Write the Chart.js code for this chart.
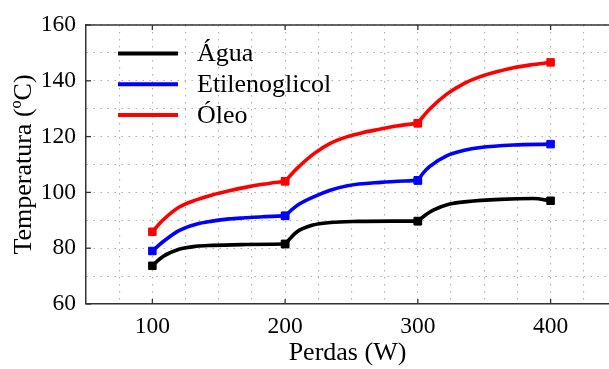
<!DOCTYPE html>
<html><head><meta charset="utf-8">
<script src="https://cdn.jsdelivr.net/npm/chart.js@4/dist/chart.umd.min.js"></script>
<style>html,body{margin:0;padding:0;background:#fff;overflow:hidden}</style>
</head><body>
<canvas id="c" width="609" height="369"></canvas>
<script>
// ---- data ----
const seriesLabels = ['Água', 'Etilenoglicol', 'Óleo'];
const seriesColors = ['#000000', '#0000ff', '#ff0000'];

const aguaX = [100, 108, 120, 133, 145, 170, 200, 209, 221, 234, 255, 280, 300, 306, 312, 324, 337, 362, 387, 400];
const aguaY = [73.7, 77.0, 79.6, 80.7, 81.0, 81.3, 81.5, 85.9, 88.3, 89.2, 89.6, 89.7, 89.7, 92.0, 93.7, 95.8, 96.7, 97.5, 97.8, 97.0];

const etilX = [100, 108, 120, 133, 145, 158, 170, 183, 200, 209, 222, 234, 247, 272, 300, 304, 309, 322, 335, 347, 372, 400];
const etilY = [79.0, 82.3, 86.3, 88.6, 89.7, 90.5, 90.9, 91.3, 91.6, 95.3, 98.5, 100.8, 102.4, 103.6, 104.3, 106.9, 109.3, 113.2, 115.1, 116.1, 117.0, 117.3];

const oleoX = [100, 108, 120, 133, 145, 158, 170, 183, 200, 209, 222, 234, 247, 259, 272, 284, 300, 304, 309, 322, 335, 347, 360, 372, 385, 400];
const oleoY = [85.9, 90.1, 94.7, 97.3, 99.1, 100.6, 101.8, 102.9, 104.0, 108.6, 114.0, 117.6, 120.0, 121.5, 122.7, 123.8, 124.8, 127.2, 129.9, 135.3, 139.1, 141.5, 143.3, 144.7, 145.7, 146.6];

const markerX = [100, 200, 300, 400];      // measured points (square markers)
const xTickValues = [100, 200, 300, 400];
const yTickValues = [60, 80, 100, 120, 140, 160];
const xGridStep = 25, yGridStep = 10;
const xMin = 50, xMax = 444, yMin = 60, yMax = 160;

// ---- build datasets: each series is drawn as smooth pieces between measured points ----
const seriesX = [aguaX, etilX, oleoX];
const seriesY = [aguaY, etilY, oleoY];
const FONT = '"Liberation Serif", "Times New Roman", serif';

const datasets = [];
seriesLabels.forEach((lab, i) => {
  const pts = seriesX[i].map((x, k) => ({x: x, y: seriesY[i][k]}));
  for (let m = 0; m < markerX.length - 1; m++) {
    const seg = pts.filter(p => p.x >= markerX[m] && p.x <= markerX[m + 1]);
    datasets.push({
      label: lab,
      data: seg,
      borderColor: seriesColors[i],
      backgroundColor: seriesColors[i],
      borderWidth: 3.6,
      cubicInterpolationMode: 'monotone',
      pointStyle: 'rect',
      pointRadius: ctx => (ctx.raw && markerX.includes(ctx.raw.x)) ? 5.3 : 0,
      pointBorderWidth: 1,
      pointBorderColor: seriesColors[i],
      pointHoverRadius: 0,
      fill: false
    });
  }
});

function line(ctx, x1, y1, x2, y2) { ctx.beginPath(); ctx.moveTo(x1, y1); ctx.lineTo(x2, y2); ctx.stroke(); }

const framePlugin = {
  id: 'frame',
  afterDatasetsDraw(chart) {
    const {ctx, chartArea: a, scales: {x, y}} = chart;
    ctx.save();
    ctx.strokeStyle = '#333';
    ctx.lineWidth = 1.5;
    line(ctx, a.left, a.top, a.right, a.top);
    ctx.lineWidth = 1.3;
    xTickValues.forEach(v => {
      const px = x.getPixelForValue(v);
      line(ctx, px, a.bottom, px, a.bottom - 5);
      line(ctx, px, a.top, px, a.top + 5);
    });
    yTickValues.forEach(v => {
      const py = y.getPixelForValue(v);
      line(ctx, a.left, py, a.left + 5, py);
    });
    ctx.restore();
  }
};

const legendPlugin = {
  id: 'legendInside',
  afterDatasetsDraw(chart) {
    const {ctx, chartArea: a} = chart;
    ctx.save();
    ctx.font = '26px ' + FONT;
    ctx.textBaseline = 'middle';
    ctx.textAlign = 'left';
    seriesLabels.forEach((lab, i) => {
      const yy = a.top + 28.5 + i * 30.7;
      ctx.strokeStyle = seriesColors[i];
      ctx.lineWidth = 4;
      line(ctx, a.left + 32, yy, a.left + 92, yy);
      ctx.fillStyle = '#000';
      ctx.fillText(lab, a.left + 111, yy + 1);
    });
    ctx.restore();
  }
};

function gridTicks(min, max, step) {
  const t = [];
  for (let v = min; v <= max + 1e-9; v += step) t.push({value: v});
  return t;
}

new Chart(document.getElementById('c'), {
  type: 'line',
  data: {datasets},
  plugins: [framePlugin, legendPlugin],
  options: {
    responsive: false,
    animation: false,
    devicePixelRatio: 1,
    layout: {autoPadding: false, padding: {top: 25, right: 0, left: 0, bottom: 0}},
    plugins: {legend: {display: false}, tooltip: {enabled: false}},
    scales: {
      x: {
        type: 'linear', min: xMin, max: xMax,
        afterBuildTicks: s => { s.ticks = gridTicks(xMin, 425, xGridStep); },
        afterFit: s => { s.height = 65; s.paddingLeft = 0; s.paddingRight = 0; },
        ticks: {
          autoSkip: false, maxRotation: 0, padding: 9, color: '#000',
          font: {family: FONT, size: 23.5},
          callback: v => xTickValues.includes(v) ? String(v) : ''
        },
        grid: {color: '#b0b0b0', lineWidth: 1.1, drawTicks: false},
        border: {display: true, color: '#333', width: 1.5, dash: [1.5, 5.5]},
        title: {display: true, text: 'Perdas (W)', color: '#000', font: {family: FONT, size: 26}, padding: {top: 0, bottom: 0}}
      },
      y: {
        type: 'linear', min: yMin, max: yMax,
        afterBuildTicks: s => { s.ticks = gridTicks(yMin, yMax, yGridStep); },
        afterFit: s => { s.width = 86; s.paddingTop = 0; s.paddingBottom = 0; },
        ticks: {
          autoSkip: false, padding: 10, color: '#000',
          font: {family: FONT, size: 23.5},
          callback: v => yTickValues.includes(v) ? String(v) : ''
        },
        grid: {color: '#b0b0b0', lineWidth: 1.1, drawTicks: false},
        border: {display: true, color: '#333', width: 1.5, dash: [1.5, 5.5]},
        title: {display: true, text: 'Temperatura (ºC)', color: '#000', font: {family: FONT, size: 26}, padding: {top: 9, bottom: 0}}
      }
    }
  }
});
</script>
</body></html>
